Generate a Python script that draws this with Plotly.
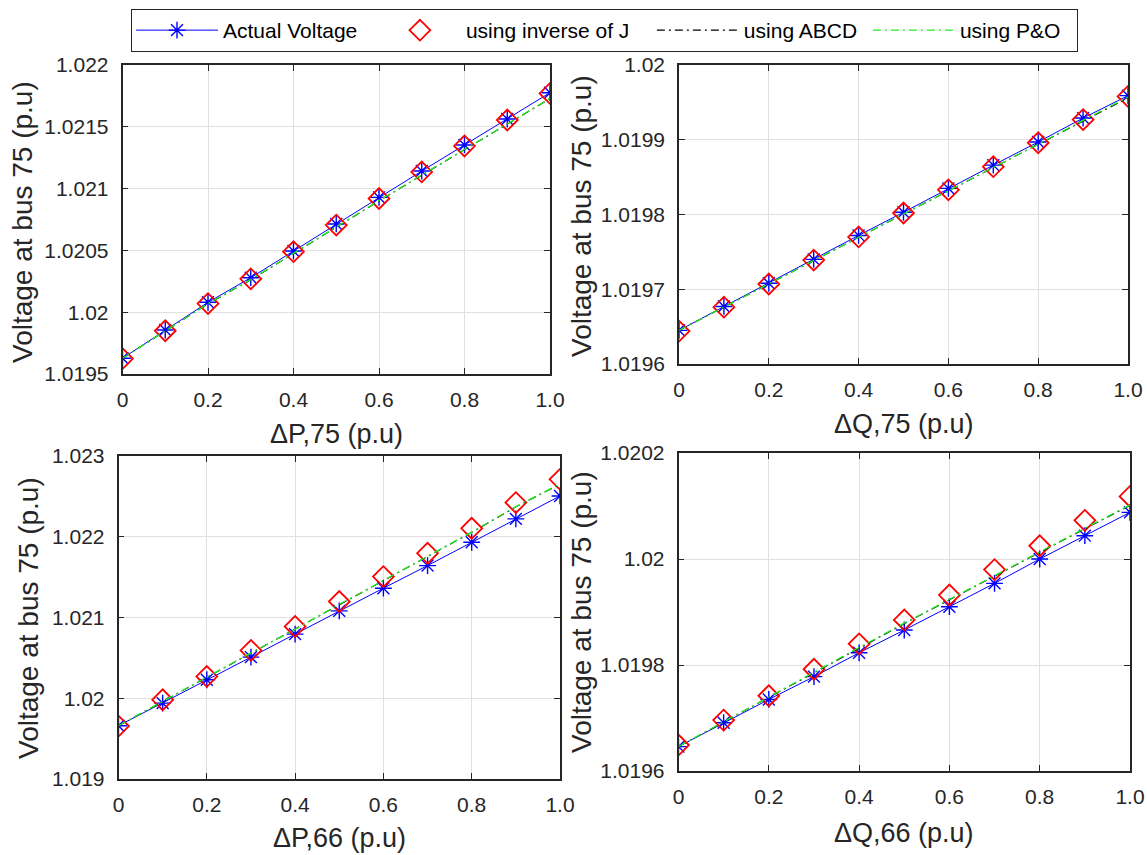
import plotly.graph_objects as go

W, H = 1147, 855

# ---------------- data ----------------
x_vals = [0, 0.1, 0.2, 0.3, 0.4, 0.5, 0.6, 0.7, 0.8, 0.9, 1.0]
x_tickvals = [0, 0.2, 0.4, 0.6, 0.8, 1.0]
x_ticktext = ["0", "0.2", "0.4", "0.6", "0.8", "1.0"]

# Panel 1: dP,75
p1_actual = [1.019627, 1.019856, 1.020080, 1.020279, 1.020495, 1.020714, 1.020929, 1.021142, 1.021353, 1.021563, 1.021776]
p1_invj   = [1.019625, 1.019850, 1.020070, 1.020270, 1.020490, 1.020705, 1.020920, 1.021135, 1.021345, 1.021555, 1.021770]
p1_abcd   = [1.019627, 1.019850, 1.020068, 1.020262, 1.020476, 1.020690, 1.020900, 1.021108, 1.021314, 1.021520, 1.021728]
p1_po     = [1.019627, 1.019851, 1.020069, 1.020264, 1.020478, 1.020692, 1.020902, 1.021110, 1.021316, 1.021522, 1.021730]
p1_yticks = [1.0195, 1.02, 1.0205, 1.021, 1.0215, 1.022]
p1_ytext  = ["1.0195", "1.02", "1.0205", "1.021", "1.0215", "1.022"]

# Panel 2: dQ,75
p2_actual = [1.019645, 1.019677, 1.019708, 1.019740, 1.019772, 1.019803, 1.019835, 1.019866, 1.019897, 1.019929, 1.019959]
p2_invj   = [1.019644, 1.019676, 1.019707, 1.019739, 1.019770, 1.019802, 1.019833, 1.019864, 1.019896, 1.019927, 1.019958]
p2_abcd   = [1.019645, 1.019676, 1.019707, 1.019738, 1.019769, 1.019800, 1.019831, 1.019862, 1.019893, 1.019925, 1.019956]
p2_po     = [1.019645, 1.019676, 1.019707, 1.019738, 1.019770, 1.019801, 1.019832, 1.019863, 1.019894, 1.019926, 1.019957]
p2_yticks = [1.0196, 1.0197, 1.0198, 1.0199, 1.02]
p2_ytext  = ["1.0196", "1.0197", "1.0198", "1.0199", "1.02"]

# Panel 3: dP,66
p3_actual = [1.019660, 1.019940, 1.020229, 1.020509, 1.020794, 1.021082, 1.021363, 1.021643, 1.021932, 1.022221, 1.022505]
p3_invj   = [1.019655, 1.019981, 1.020270, 1.020592, 1.020889, 1.021198, 1.021507, 1.021796, 1.022105, 1.022423, 1.022711]
p3_abcd   = [1.019660, 1.019960, 1.020255, 1.020560, 1.020850, 1.021160, 1.021455, 1.021750, 1.022055, 1.022370, 1.022650]
p3_po     = [1.019660, 1.019962, 1.020258, 1.020562, 1.020853, 1.021163, 1.021458, 1.021753, 1.022058, 1.022373, 1.022655]
p3_yticks = [1.019, 1.02, 1.021, 1.022, 1.023]
p3_ytext  = ["1.019", "1.02", "1.021", "1.022", "1.023"]

# Panel 4: dQ,66
p4_actual = [1.019646, 1.019691, 1.019735, 1.019778, 1.019823, 1.019866, 1.019910, 1.019954, 1.020000, 1.020044, 1.020088]
p4_invj   = [1.019649, 1.019696, 1.019742, 1.019792, 1.019840, 1.019885, 1.019932, 1.019980, 1.020025, 1.020073, 1.020118]
p4_abcd   = [1.019646, 1.019693, 1.019739, 1.019785, 1.019832, 1.019878, 1.019923, 1.019968, 1.020013, 1.020057, 1.020101]
p4_po     = [1.019646, 1.019693, 1.019740, 1.019786, 1.019833, 1.019879, 1.019924, 1.019969, 1.020014, 1.020058, 1.020102]
p4_yticks = [1.0196, 1.0198, 1.02, 1.0202]
p4_ytext  = ["1.0196", "1.0198", "1.02", "1.0202"]

x_titles = ["ΔP,75 (p.u)", "ΔQ,75 (p.u)", "ΔP,66 (p.u)", "ΔQ,66 (p.u)"]
y_title = "Voltage at bus 75 (p.u)"
series_names = ["Actual Voltage", "using inverse of J", "using ABCD", "using P&O"]
NB = "\u00a0"
legend_pad = [2, 3, 1, 2]  # trailing non-breaking spaces to space legend entries

panels = [
    (p1_actual, p1_invj, p1_abcd, p1_po, p1_yticks, p1_ytext),
    (p2_actual, p2_invj, p2_abcd, p2_po, p2_yticks, p2_ytext),
    (p3_actual, p3_invj, p3_abcd, p3_po, p3_yticks, p3_ytext),
    (p4_actual, p4_invj, p4_abcd, p4_po, p4_yticks, p4_ytext),
]

# ---------------- layout geometry (pixels) ----------------
boxes = [
    (122.5, 550, 65, 374),
    (679, 1128, 65, 364),
    (118.5, 560, 456, 779),
    (678.5, 1130, 453, 771),
]
ylabel_pos = [(23, 222), (581, 216), (28, 618), (581, 612)]
xlabel_y = [434, 424, 838, 833]

FONT = "Liberation Sans, Arial, Helvetica, sans-serif"
TXT = "#262626"
GRID = "#e0e0e0"

fig = go.Figure()

for i, (act, inv, abcd, po, yt, ytt) in enumerate(panels):
    xa = "x" if i == 0 else f"x{i+1}"
    ya = "y" if i == 0 else f"y{i+1}"
    show = (i == 0)
    fig.add_trace(go.Scatter(
        x=x_vals, y=act, name=series_names[0] + NB * legend_pad[0], mode="lines+markers",
        line=dict(color="#0000ff", width=1),
        marker=dict(symbol="asterisk-open", size=14, line=dict(color="#0000ff", width=1.4)),
        xaxis=xa, yaxis=ya, showlegend=show, legendgroup="a"))
    fig.add_trace(go.Scatter(
        x=x_vals, y=inv, name=series_names[1] + NB * legend_pad[1], mode="markers",
        marker=dict(symbol="diamond-open", size=16, color="#ff0000",
                    line=dict(color="#ff0000", width=1.8)),
        xaxis=xa, yaxis=ya, showlegend=show, legendgroup="b"))
    fig.add_trace(go.Scatter(
        x=x_vals, y=abcd, name=series_names[2] + NB * legend_pad[2], mode="lines",
        line=dict(color="#000000", width=1.1, dash="8px,4px,2px,4px"),
        xaxis=xa, yaxis=ya, showlegend=show, legendgroup="c"))
    fig.add_trace(go.Scatter(
        x=x_vals, y=po, name=series_names[3] + NB * legend_pad[3], mode="lines",
        line=dict(color="#22ee22", width=1.3, dash="8px,4px,2px,4px"),
        xaxis=xa, yaxis=ya, showlegend=show, legendgroup="d"))

    l, r, t, b = boxes[i]
    axis_common = dict(
        showline=True, linecolor=TXT, linewidth=1.6, mirror="allticks",
        ticks="inside", ticklen=6, tickcolor=TXT, tickwidth=1.2,
        showgrid=True, gridcolor=GRID, gridwidth=1, zeroline=False,
        automargin=False,
        tickfont=dict(family=FONT, size=21, color=TXT),
    )
    fig.update_layout(**{
        ("xaxis" if i == 0 else f"xaxis{i+1}"): dict(
            domain=[l / W, r / W], anchor=ya, range=[0, 1],
            tickvals=x_tickvals, ticktext=x_ticktext, ticklabelstandoff=6, **axis_common),
        ("yaxis" if i == 0 else f"yaxis{i+1}"): dict(
            domain=[1 - b / H, 1 - t / H], anchor=xa, range=[yt[0], yt[-1]],
            tickvals=yt, ticktext=ytt, ticklabelstandoff=8, **axis_common),
    })

    fig.add_annotation(x=(l + r) / 2 / W, y=1 - xlabel_y[i] / H, xref="paper", yref="paper",
                       text=x_titles[i], showarrow=False, xanchor="center", yanchor="middle",
                       font=dict(family=FONT, size=27, color=TXT))
    fig.add_annotation(x=ylabel_pos[i][0] / W, y=1 - ylabel_pos[i][1] / H, xref="paper", yref="paper",
                       text=y_title, showarrow=False, textangle=-90, xanchor="center", yanchor="middle",
                       font=dict(family=FONT, size=28, color=TXT))

fig.update_layout(
    width=W, height=H,
    margin=dict(l=0, r=0, t=0, b=0, pad=0, autoexpand=False),
    paper_bgcolor="white", plot_bgcolor="white",
    legend=dict(
        orientation="h", x=131 / W, y=1 - 9 / H, xanchor="left", yanchor="top",
        bgcolor="white", bordercolor=TXT, borderwidth=1,
        font=dict(family=FONT, size=21, color="#000000"),
        itemwidth=82, tracegroupgap=0,
    ),
)

fig.write_html("out.html", config={"displayModeBar": False},
               post_script="document.body.style.margin='0px';")
